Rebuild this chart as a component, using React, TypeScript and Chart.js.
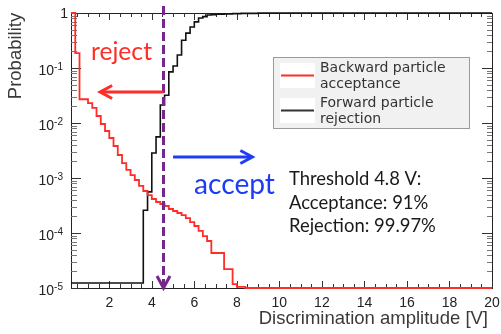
import React, { useEffect, useRef } from 'react';
import { Chart, registerables } from 'chart.js';

Chart.register(...registerables);

// ---------- data ----------
const X_MIN = 0.2;
const X_MAX = 20;
const Y_MIN = 1e-5;
const Y_MAX = 1;

const X_TICK_LABELS = [2, 4, 6, 8, 10, 12, 14, 16, 18, 20];
const X_MINOR_STEP = 0.5;
const Y_TICK_EXPONENTS = [0, -1, -2, -3, -4, -5];

// Backward particle acceptance (bin start, value)
const RED_X = [0.2, 0.4, 0.6, 1.0, 1.2, 1.4, 1.6, 1.8, 2.0, 2.2, 2.4, 2.6, 2.8, 3.0, 3.2, 3.4, 3.6, 3.8, 4.0, 4.2, 4.4, 4.6, 4.8, 5.0, 5.2, 5.4, 5.6, 5.8, 6.0, 6.2, 6.4, 6.6, 6.8, 7.4, 7.8, 8.0, 8.4, 20];
const RED_Y = [1, 0.187, 0.027, 0.023, 0.0188, 0.0134, 0.0096, 0.00716, 0.00534, 0.00382, 0.00262, 0.00187, 0.0014, 0.00113, 0.00092, 0.00072, 0.00058, 0.00049, 0.000415, 0.000366, 0.000337, 0.00031, 0.000273, 0.000251, 0.000231, 0.000212, 0.000187, 0.000158, 0.000134, 0.000109, 0.000088, 0.0000716, 0.0000433, 0.0000221, 0.0000118, 0.0000105, 0.00001, 0.00001];

// Forward particle rejection (bin start, value)
const BLACK_X = [0.2, 3.6, 3.8, 4.0, 4.2, 4.4, 4.6, 4.8, 5.0, 5.2, 5.4, 5.6, 5.8, 6.0, 6.2, 6.4, 6.6, 6.8, 7.0, 7.4, 7.8, 8.2, 9.0, 10.0, 20];
const BLACK_Y = [0.0000123, 0.00026, 0.00056, 0.00285, 0.0056, 0.0213, 0.032, 0.085, 0.109, 0.172, 0.32, 0.43, 0.556, 0.69, 0.81, 0.86, 0.92, 0.93, 0.95, 0.96, 0.975, 0.985, 0.993, 1, 1];

const THRESHOLD_X = 4.55;
const REJECT_ARROW = { from: 4.55, to: 1.57, y: 0.0366 };
const ACCEPT_ARROW = { from: 5.0, to: 8.73, y: 0.00241 };

const LEGEND_LABELS = [
  ['Backward particle', 'acceptance'],
  ['Forward particle', 'rejection'],
];
const INFO_LINES = ['Threshold 4.8 V:', 'Acceptance: 91%', 'Rejection: 99.97%'];

const RED = 'rgb(255,45,40)';
const BLACK = '#111111';
const PURPLE = 'rgb(118,38,140)';
const BLUE = 'rgb(30,60,245)';

function fitFont(ctx: CanvasRenderingContext2D, text: string, family: string, target: number) {
  ctx.font = `100px ${family}`;
  const w = ctx.measureText(text).width;
  return (100 * target) / w;
}

const decorations = {
  id: 'decorations',
  beforeDatasetsDraw(chart: any) {
    const ctx: CanvasRenderingContext2D = chart.ctx;
    const { left, right, top, bottom } = chart.chartArea;
    const xs = chart.scales.x;
    const ys = chart.scales.y;
    ctx.save();
    // frame
    ctx.strokeStyle = '#222';
    ctx.lineWidth = 1;
    ctx.strokeRect(Math.round(left) + 0.5, Math.round(top) + 0.5, Math.round(right - left), Math.round(bottom - top));

    // x ticks
    ctx.strokeStyle = '#333';
    for (let v = X_MINOR_STEP; v <= X_MAX + 1e-9; v += X_MINOR_STEP) {
      if (v < X_MIN) continue;
      const px = Math.round(xs.getPixelForValue(v)) + 0.5;
      const major = Math.abs(v / 2 - Math.round(v / 2)) < 1e-6;
      const len = major ? 7 : 4;
      ctx.beginPath();
      ctx.moveTo(px, bottom);
      ctx.lineTo(px, bottom - len);
      ctx.moveTo(px, top);
      ctx.lineTo(px, top + len);
      ctx.stroke();
    }
    // y ticks
    for (let d = -5; d <= 0; d++) {
      const base = Math.pow(10, d);
      const py = Math.round(ys.getPixelForValue(base)) + 0.5;
      ctx.strokeStyle = '#333';
      ctx.beginPath();
      ctx.moveTo(left, py);
      ctx.lineTo(left + 10, py);
      ctx.moveTo(right, py);
      ctx.lineTo(right - 10, py);
      ctx.stroke();
      if (d < 0) {
        ctx.strokeStyle = '#777';
        for (let m = 2; m <= 9; m++) {
          const pm = Math.round(ys.getPixelForValue(m * base)) + 0.5;
          ctx.beginPath();
          ctx.moveTo(left, pm);
          ctx.lineTo(left + 6, pm);
          ctx.moveTo(right, pm);
          ctx.lineTo(right - 5, pm);
          ctx.stroke();
        }
      }
    }

    // x tick labels
    ctx.fillStyle = '#222';
    ctx.font = '14px "Liberation Sans", Arial, sans-serif';
    ctx.textAlign = 'center';
    ctx.textBaseline = 'alphabetic';
    X_TICK_LABELS.forEach((v) => {
      ctx.fillText(String(v), xs.getPixelForValue(v), bottom + 19);
    });

    // y tick labels
    Y_TICK_EXPONENTS.forEach((e) => {
      const py = ys.getPixelForValue(Math.pow(10, e));
      if (e === 0) {
        ctx.font = '14px "Liberation Sans", Arial, sans-serif';
        ctx.textAlign = 'right';
        ctx.fillText('1', 68, py + 5);
      } else {
        ctx.font = '10px "Liberation Sans", Arial, sans-serif';
        ctx.textAlign = 'right';
        ctx.fillText(String(e), 63, py + 2);
        const ew = ctx.measureText(String(e)).width;
        ctx.font = '14px "Liberation Sans", Arial, sans-serif';
        ctx.fillText('10', 63 - ew, py + 7);
      }
    });

    // axis titles
    ctx.fillStyle = '#3a3a3a';
    ctx.font = '18.5px "Liberation Sans", Arial, sans-serif';
    ctx.textAlign = 'right';
    ctx.fillText('Discrimination amplitude [V]', 488, 324);
    ctx.save();
    ctx.translate(21, 56);
    ctx.rotate(-Math.PI / 2);
    ctx.textAlign = 'center';
    ctx.font = '18.5px "Liberation Sans", Arial, sans-serif';
    ctx.fillText('Probability', 0, 0);
    ctx.restore();
    ctx.restore();
  },
  afterDatasetsDraw(chart: any) {
    const ctx: CanvasRenderingContext2D = chart.ctx;
    const { top, bottom } = chart.chartArea;
    const xs = chart.scales.x;
    const ys = chart.scales.y;
    ctx.save();

    // threshold dashed line with arrow head
    const tx = xs.getPixelForValue(THRESHOLD_X);
    ctx.strokeStyle = PURPLE;
    ctx.lineWidth = 3;
    ctx.setLineDash([9, 4]);
    ctx.beginPath();
    ctx.moveTo(tx, top - 7);
    ctx.lineTo(tx, bottom - 3);
    ctx.stroke();
    ctx.setLineDash([]);
    ctx.beginPath();
    ctx.moveTo(tx - 6.5, bottom - 12);
    ctx.lineTo(tx, bottom);
    ctx.lineTo(tx + 6.5, bottom - 12);
    ctx.stroke();

    const drawArrow = (a: { from: number; to: number; y: number }, color: string) => {
      const x0 = xs.getPixelForValue(a.from);
      const x1 = xs.getPixelForValue(a.to);
      const y = ys.getPixelForValue(a.y);
      const dir = Math.sign(x1 - x0);
      ctx.strokeStyle = color;
      ctx.lineWidth = 3;
      ctx.lineCap = 'butt';
      ctx.beginPath();
      ctx.moveTo(x0, y);
      ctx.lineTo(x1 - dir * 2, y);
      ctx.stroke();
      ctx.beginPath();
      ctx.moveTo(x1 - dir * 12, y - 6.5);
      ctx.lineTo(x1, y);
      ctx.lineTo(x1 - dir * 12, y + 6.5);
      ctx.stroke();
    };
    drawArrow(REJECT_ARROW, RED);
    drawArrow(ACCEPT_ARROW, BLUE);

    // texts
    const fam = 'Lato, "Open Sans", sans-serif';
    ctx.textAlign = 'left';
    ctx.textBaseline = 'alphabetic';
    ctx.fillStyle = RED;
    ctx.font = `${fitFont(ctx, 'reject', fam, 61)}px ${fam}`;
    ctx.fillText('reject', 91, 60);
    ctx.fillStyle = BLUE;
    ctx.font = `${fitFont(ctx, 'accept', fam, 81)}px ${fam}`;
    ctx.fillText('accept', 194, 194);
    ctx.fillStyle = '#1a1a1a';
    const infoSize = fitFont(ctx, INFO_LINES[2], fam, 147);
    ctx.font = `${infoSize}px ${fam}`;
    INFO_LINES.forEach((t, i) => ctx.fillText(t, 289, 185 + i * 23.5));

    // legend
    ctx.fillStyle = '#f1f1f1';
    ctx.fillRect(273, 57, 196, 71);
    ctx.strokeStyle = '#9a9a9a';
    ctx.lineWidth = 1;
    ctx.strokeRect(273.5, 57.5, 196, 71);
    ctx.fillStyle = '#ffffff';
    ctx.fillRect(280, 63, 35, 25);
    ctx.fillRect(280, 98, 35, 25);
    ctx.lineWidth = 2;
    ctx.strokeStyle = RED;
    ctx.beginPath();
    ctx.moveTo(281, 75.5);
    ctx.lineTo(314, 75.5);
    ctx.stroke();
    ctx.strokeStyle = '#333';
    ctx.beginPath();
    ctx.moveTo(281, 110.5);
    ctx.lineTo(314, 110.5);
    ctx.stroke();
    ctx.fillStyle = '#333';
    ctx.font = '14px "DejaVu Sans", sans-serif';
    const baselines = [72, 88, 107, 123];
    let k = 0;
    LEGEND_LABELS.forEach((pair) => {
      pair.forEach((t) => {
        ctx.fillText(t, 320, baselines[k++]);
      });
    });

    ctx.restore();
  },
};

export default function App() {
  const canvasRef = useRef<HTMLCanvasElement | null>(null);

  useEffect(() => {
    document.body.style.margin = '0';
    const canvas = canvasRef.current;
    if (!canvas) return;
    const chart = new Chart(canvas, {
      type: 'line',
      data: {
        datasets: [
          {
            label: 'Backward particle acceptance',
            data: RED_X.map((x, i) => ({ x, y: RED_Y[i] })),
            borderColor: RED,
            borderWidth: 1.8,
            pointRadius: 0,
            stepped: 'before',
            fill: false,
            clip: 3,
          },
          {
            label: 'Forward particle rejection',
            data: BLACK_X.map((x, i) => ({ x, y: BLACK_Y[i] })),
            borderColor: BLACK,
            borderWidth: 1.6,
            pointRadius: 0,
            stepped: 'before',
            fill: false,
            clip: 3,
          },
        ],
      },
      options: {
        responsive: false,
        animation: false,
        devicePixelRatio: 1,
        layout: { padding: { left: 71, right: 9, top: 13, bottom: 46 } },
        plugins: { legend: { display: false }, tooltip: { enabled: false } },
        scales: {
          x: { type: 'linear', min: X_MIN, max: X_MAX, display: false },
          y: { type: 'logarithmic', min: Y_MIN, max: Y_MAX, display: false },
        },
      },
      plugins: [decorations],
    });
    return () => chart.destroy();
  }, []);

  return (
    <div style={{ position: 'absolute', left: 0, top: 0, width: 501, height: 334, background: '#fff' }}>
      <canvas ref={canvasRef} width={501} height={334} />
    </div>
  );
}
